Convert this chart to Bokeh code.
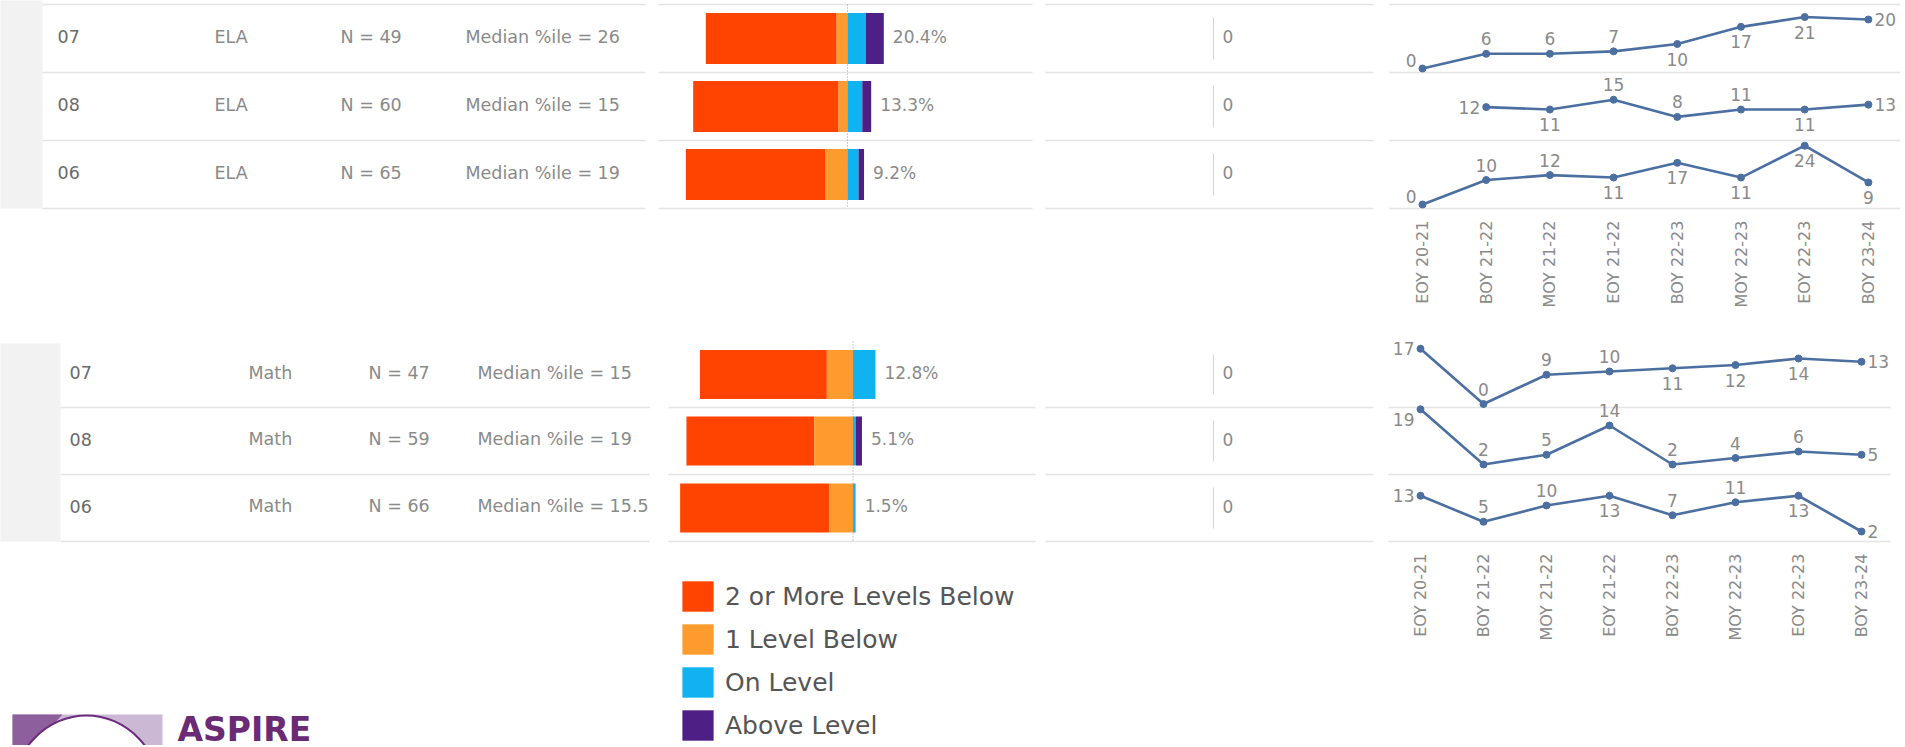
import math
from bokeh.plotting import figure
from bokeh.models import Range1d, Legend, LegendItem
from bokeh.layouts import row, column
from bokeh.embed import file_html
from bokeh.resources import INLINE
from bokeh.core.properties import value

nan = float("nan")

# ---------------- data ----------------
ela_grades = ["07", "08", "06"]
ela_subject = ["ELA", "ELA", "ELA"]
ela_n = [49, 60, 65]
ela_median = ["26", "15", "19"]
ela_two_below = [73.5, 81.7, 78.5]
ela_one_below = [6.1, 5.0, 12.3]
ela_on_level = [10.2, 8.3, 6.2]
ela_above_level = [10.2, 5.0, 3.1]
ela_on_above_label = ["20.4%", "13.3%", "9.2%"]
ela_zero_count = [0, 0, 0]

math_grades = ["07", "08", "06"]
math_subject = ["Math", "Math", "Math"]
math_n = [47, 59, 66]
math_median = ["15", "19", "15.5"]
math_two_below = [72.3, 72.9, 84.8]
math_one_below = [14.9, 22.0, 13.7]
math_on_level = [12.8, 1.7, 1.5]
math_above_level = [0.0, 3.4, 0.0]
math_on_above_label = ["12.8%", "5.1%", "1.5%"]
math_zero_count = [0, 0, 0]

periods = ["EOY  20-21", "BOY  21-22", "MOY  21-22", "EOY  21-22",
           "BOY  22-23", "MOY  22-23", "EOY  22-23", "BOY  23-24"]
ela_trend_07 = [0, 6, 6, 7, 10, 17, 21, 20]
ela_trend_08 = [nan, 12, 11, 15, 8, 11, 11, 13]
ela_trend_06 = [0, 10, 12, 11, 17, 11, 24, 9]
math_trend_07 = [17, 0, 9, 10, 11, 12, 14, 13]
math_trend_08 = [19, 2, 5, 14, 2, 4, 6, 5]
math_trend_06 = [13, 5, 10, 13, 7, 11, 13, 2]

legend_labels = ["2 or More Levels Below", "1 Level Below", "On Level", "Above Level"]

# ---------------- styles ----------------
level_colors = ["#ff4300", "#fd9b2f", "#10b3ef", "#4e1f84"]
ela_label_side = [["LA", "A", "A", "A", "B", "B", "B", "R"],
                  ["L", "L", "B", "A", "A", "A", "B", "R"],
                  ["LA", "A", "A", "B", "B", "B", "B", "B"]]
math_label_side = [["L", "A", "A", "A", "B", "B", "B", "R"],
                   ["LB", "A", "A", "A", "A", "A", "A", "R"],
                   ["L", "A", "A", "B", "A", "A", "B", "R"]]
SIDE = {"A": (0, -15, "center"), "B": (0, 15, "center"), "L": (-6, 0, "right"),
        "LA": (-6, -8, "right"), "LB": (-6, 10, "right"), "R": (6, 0, "left")}

FONT = value("DejaVu Sans")
GREY_TXT = "#8a8a8a"
DARK_TXT = "#6a6a6a"
SEP = "#e4e4e4"
LINE_BLUE = "#4b6fa0"
COLS = [0, 650, 1040, 1380, 1900]

upper = dict(y0=0, y1=335, edges=[4, 72, 140, 208], top_line=True, strip_right=42, strip_top=-5,
             table_line=(42, 645), text_x=(57, 214, 340, 465), bar_center=847, bar_scale=1.78,
             bar_line=(658, 1032), bar_h=51, zero_line=(1045, 1373), vline_x=1213, zero_x=1222,
             spark_line=(1389, 1900), spark_x0=1422, spark_dx=63.7, spark_off=4, spark_scale=2.45,
             tick_top=215)
lower = dict(y0=335, y1=745, edges=[341, 407, 474, 541], top_line=False, strip_right=60, strip_top=343,
             table_line=(60, 650), text_x=(69, 248, 368, 477), bar_center=852.5, bar_scale=1.755,
             bar_line=(668, 1035), bar_h=49, zero_line=(1045, 1373), vline_x=1213, zero_x=1222,
             spark_line=(1388, 1890), spark_x0=1420, spark_dx=63.0, spark_off=3.5, spark_scale=3.25,
             tick_top=548)


def base_fig(x0, x1, y0, y1, x_range=None):
    p = figure(width=int(x1 - x0), height=int(y1 - y0),
               x_range=x_range if x_range is not None else Range1d(x0, x1),
               y_range=Range1d(y1, y0), x_axis_type=None, y_axis_type=None,
               output_backend="svg", toolbar_location=None, min_border=0,
               outline_line_color=None)
    return p


def sep_lines(p, s, x0, x1, **kw):
    e = s["edges"]
    ys = e if s["top_line"] else e[1:]
    p.segment(x0=[x0] * len(ys), x1=[x1] * len(ys), y0=ys, y1=ys,
              line_color=SEP, line_width=1.6, **kw)


def centers(s):
    e = s["edges"]
    return [(e[i] + e[i + 1]) / 2 - 2 for i in range(len(e) - 1)]


def table_panel(s, grades, subjects, ns, medians, logo=False):
    p = base_fig(COLS[0], COLS[1], s["y0"], s["y1"])
    p.quad(left=[-5], right=[s["strip_right"]], top=[s["strip_top"]], bottom=[s["edges"][-1]],
           fill_color="#f2f2f2", line_color=None)
    sep_lines(p, s, *s["table_line"])
    cy = centers(s)
    tx = s["text_x"]
    cols = [(grades, DARK_TXT), (subjects, GREY_TXT),
            ([f"N = {n}" for n in ns], GREY_TXT),
            ([f"Median %ile = {m}" for m in medians], GREY_TXT)]
    for (txt, col), x in zip(cols, tx):
        p.text(x=[x] * len(txt), y=cy, text=txt, text_font=FONT, text_font_size="17.5px",
               text_color=col, text_align="left", text_baseline="middle")
    if logo:
        p.quad(left=[12], right=[162], top=[714], bottom=[760], fill_color="#cbb8d5", line_color=None)
        p.patch(x=[12, 62, 40, 12], y=[714, 714, 738, 760], fill_color="#8d5f9c", line_color=None)
        p.ellipse(x=[86], y=[796], width=150, height=162, fill_color="white",
                  line_color="#6b2a7a", line_width=2)
        p.text(x=[177], y=[729], text=["ASPIRE"], text_font=FONT,
               text_font_style="bold", text_font_size="33px", text_color="#6b2a74",
               text_baseline="alphabetic", text_align="left")
    return p


def bar_panel(s, two, one, on, above, labels, legend=False):
    c, sc = s["bar_center"], s["bar_scale"]
    p = base_fig(COLS[1], COLS[2], s["y0"], s["y1"],
                 x_range=Range1d((COLS[1] - c) / sc, (COLS[2] - c) / sc))
    p.extra_x_ranges = {"px": Range1d(COLS[1], COLS[2])}
    sep_lines(p, s, *s["bar_line"], x_range_name="px")
    cy = centers(s)
    yb = [v + 2 for v in cy]
    segs = [([-(a + b) for a, b in zip(two, one)], [-b for b in one]),
            ([-b for b in one], [0] * len(one)),
            ([0] * len(on), list(on)),
            (list(on), [a + b for a, b in zip(on, above)])]
    rends = []
    for (l, r), col in zip(segs, level_colors):
        rends.append(p.hbar(y=yb, left=l, right=r, height=s["bar_h"], fill_color=col, line_color=None))
    p.segment(x0=[0], x1=[0], y0=[s["edges"][0]], y1=[s["edges"][-1]],
              line_color="#9a9a9a", line_width=1, line_dash="1 2")
    p.text(x=[a + b for a, b in zip(on, above)], y=cy, text=labels, x_offset=9,
           text_font=FONT, text_font_size="17px", text_color=GREY_TXT,
           text_align="left", text_baseline="middle")
    if legend:
        items = [LegendItem(label=lab, renderers=[r]) for lab, r in zip(legend_labels, rends)]
        leg = Legend(items=items, location=(28, 1), orientation="vertical",
                     glyph_width=39, glyph_height=38, spacing=5, label_standoff=8,
                     label_text_font="DejaVu Sans", label_text_font_size="25px",
                     label_text_color="#555555", label_height=38,
                     border_line_color=None, background_fill_alpha=0, padding=0, margin=0)
        p.add_layout(leg)
    return p


def zero_panel(s, counts):
    p = base_fig(COLS[2], COLS[3], s["y0"], s["y1"])
    sep_lines(p, s, *s["zero_line"])
    e = s["edges"]
    n = len(e) - 1
    p.segment(x0=[s["vline_x"]] * n, x1=[s["vline_x"]] * n,
              y0=[e[i] + 13 for i in range(n)], y1=[e[i + 1] - 13 for i in range(n)],
              line_color="#d4d4d4", line_width=1)
    p.text(x=[s["zero_x"]] * n, y=centers(s), text=[str(v) for v in counts],
           text_font=FONT, text_font_size="17px", text_color=GREY_TXT,
           text_align="left", text_baseline="middle")
    return p


def spark_panel(s, series, sides):
    p = base_fig(COLS[3], COLS[4], s["y0"], s["y1"])
    x0, dx = s["spark_x0"], s["spark_dx"]
    p.extra_x_ranges = {"idx": Range1d((COLS[3] - x0) / dx, (COLS[4] - x0) / dx)}
    sep_lines(p, s, *s["spark_line"])
    e = s["edges"]
    sc = s["spark_scale"]
    for i, (vals, side) in enumerate(zip(series, sides)):
        z = e[i + 1] - s["spark_off"]
        name = f"r{i}"
        p.extra_y_ranges[name] = Range1d(-(s["y1"] - z) / sc, (z - s["y0"]) / sc)
        xs = list(range(len(vals)))
        p.line(x=xs, y=vals, line_color=LINE_BLUE, line_width=2.6,
               x_range_name="idx", y_range_name=name)
        gx = [x for x, v in zip(xs, vals) if not math.isnan(v)]
        gv = [v for v in vals if not math.isnan(v)]
        gs = [sd for sd, v in zip(side, vals) if not math.isnan(v)]
        p.scatter(x=gx, y=gv, size=7, fill_color=LINE_BLUE, line_color=LINE_BLUE,
                  x_range_name="idx", y_range_name=name)
        for key in SIDE:
            kx = [x for x, sd in zip(gx, gs) if sd == key]
            kv = [v for v, sd in zip(gv, gs) if sd == key]
            if not kx:
                continue
            ox, oy, al = SIDE[key]
            p.text(x=kx, y=kv, text=[f"{v:g}" for v in kv], x_offset=ox, y_offset=oy,
                   text_font=FONT, text_font_size="17px", text_color=GREY_TXT,
                   text_align=al, text_baseline="middle",
                   x_range_name="idx", y_range_name=name)
    p.text(x=list(range(len(periods))), y=[s["tick_top"]] * len(periods), text=periods,
           angle=math.pi / 2, text_font=FONT, text_font_size="16px", text_color=GREY_TXT,
           text_align="right", text_baseline="middle", x_range_name="idx")
    return p


top_row = row(
    table_panel(upper, ela_grades, ela_subject, ela_n, ela_median),
    bar_panel(upper, ela_two_below, ela_one_below, ela_on_level, ela_above_level, ela_on_above_label),
    zero_panel(upper, ela_zero_count),
    spark_panel(upper, [ela_trend_07, ela_trend_08, ela_trend_06], ela_label_side),
)
bottom_row = row(
    table_panel(lower, math_grades, math_subject, math_n, math_median, logo=True),
    bar_panel(lower, math_two_below, math_one_below, math_on_level, math_above_level,
              math_on_above_label, legend=True),
    zero_panel(lower, math_zero_count),
    spark_panel(lower, [math_trend_07, math_trend_08, math_trend_06], math_label_side),
)
layout = column(top_row, bottom_row)

open("out.html", "w").write(file_html(layout, INLINE))
